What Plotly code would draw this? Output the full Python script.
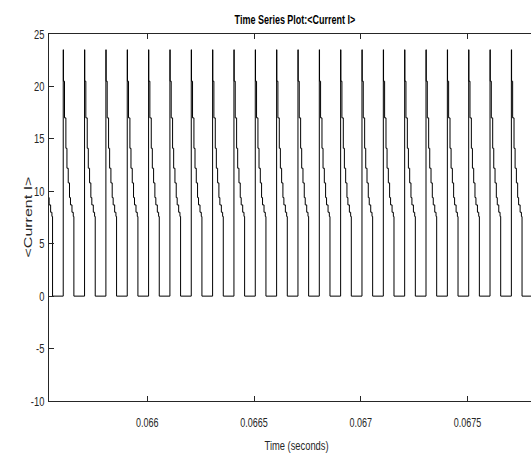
import plotly.graph_objects as go

# Rising-edge times of each current pulse (s)
pulse_rise_times = [0.065506, 0.065606, 0.065706, 0.065806, 0.065906, 0.066006,
                    0.066106, 0.066206, 0.066306, 0.066406, 0.066506, 0.066606,
                    0.066706, 0.066806, 0.066906, 0.067006, 0.067106, 0.067206,
                    0.067306, 0.067406, 0.067506, 0.067606, 0.067706, 0.067806]

# Sample offsets inside one pulse (microseconds) and the held current level (A)
step_offsets_us = [0, 1, 6, 12.5, 17.5, 23.5, 29.5, 34, 41, 47, 50]
step_levels = [23.5, 20.5, 17.0, 14.1, 12.2, 10.8, 9.4, 8.7, 8.0, 7.6, 0.0]

x_tick_vals = [0.066, 0.0665, 0.067, 0.0675]
x_tick_text = ["0.066", "0.0665", "0.067", "0.0675"]
y_tick_vals = [-10, -5, 0, 5, 10, 15, 20, 25]
y_tick_text = ["-10", "-5", "0", "5", "10", "15", "20", "25"]

x_range = [0.06553937, 0.0677980]
y_range = [-10, 25]

t, i = [], []
for t0 in pulse_rise_times:
    for off, lvl in zip(step_offsets_us, step_levels):
        t.append(t0 + off * 1e-6)
        i.append(lvl)

axis_col = "#262626"
sans = "Liberation Sans, Arial, sans-serif"

fig = go.Figure()
fig.add_trace(go.Scatter(x=t, y=i, mode="lines", line=dict(color="black", width=1, shape="hv"),
                         showlegend=False, hoverinfo="skip"))

fig.update_layout(
    width=531, height=453,
    margin=dict(l=49, r=0, t=34, b=52),
    paper_bgcolor="white", plot_bgcolor="white",
    font=dict(family=sans, color=axis_col, size=12),
    xaxis=dict(range=x_range, tickvals=x_tick_vals, ticktext=x_tick_text,
               ticks="inside", ticklen=5, tickcolor=axis_col,
               showline=True, linecolor=axis_col, linewidth=1, mirror="ticks",
               showgrid=False, zeroline=False, ticklabelstandoff=10,
               tickfont=dict(size=12.5, family=sans)),
    yaxis=dict(range=y_range, tickvals=y_tick_vals, ticktext=y_tick_text,
               ticks="inside", ticklen=5, tickcolor=axis_col,
               showline=True, linecolor=axis_col, linewidth=1,
               showgrid=False, zeroline=False, ticklabelstandoff=1,
               tickfont=dict(size=13, family=sans)),
    annotations=[
        dict(text="<b>Time Series Plot:&lt;Current I&gt;</b>", xref="paper", yref="paper",
             x=(295 - 49) / 482, y=1, yshift=14, xanchor="center", yanchor="middle",
             showarrow=False, font=dict(size=12.5, family=sans, color="black")),
        dict(text="Time (seconds)", xref="paper", yref="paper",
             x=(296 - 49) / 482, y=0, yshift=-44, xanchor="center", yanchor="middle",
             showarrow=False, font=dict(size=13, family=sans, color=axis_col)),
        dict(text="&lt;Current I&gt;", xref="paper", yref="paper",
             x=0, xshift=-21, y=0.5, textangle=-90, xanchor="center", yanchor="middle",
             showarrow=False, font=dict(size=16, family=sans, color=axis_col)),
    ],
)

# Condense text horizontally on screen to a narrow face
squeeze_js = """
var gd = document.getElementById('{plot_id}');
var k = 0.72;
gd.querySelectorAll('.xtick text, .ytick text, text.annotation-text').forEach(function (el) {
    var bb = el.getBBox();
    var tr = el.getAttribute('transform') || '';
    if (el.textContent === '<Current I>') {
        // rotated label: its local y axis runs horizontally on screen
        var cy = bb.y + bb.height / 2;
        el.setAttribute('transform', tr + ' translate(0,' + cy + ') scale(1,' + k + ') translate(0,' + (-cy) + ')');
        return;
    }
    var anchor = el.getAttribute('text-anchor');
    var cx = (anchor === 'end') ? bb.x + bb.width : bb.x + bb.width / 2;
    el.setAttribute('transform', tr + ' translate(' + cx + ',0) scale(' + k + ',1) translate(' + (-cx) + ',0)');
});
"""

fig.write_html("out.html", post_script=squeeze_js)
